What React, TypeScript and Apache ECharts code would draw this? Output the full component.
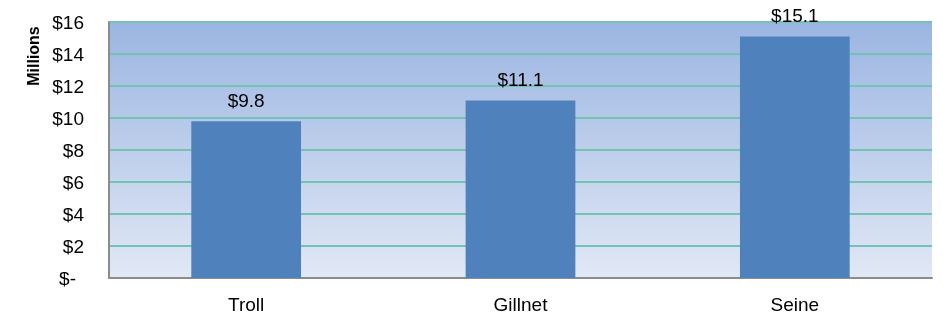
import React, { useEffect, useRef } from "react";
import * as echarts from "echarts";

const categories = ["Troll", "Gillnet", "Seine"];
const values = [9.8, 11.1, 15.1];
const yTicks = { min: 0, max: 16, interval: 2 };
const axisName = "Millions";

export default function App() {
  const ref = useRef<HTMLDivElement>(null);
  useEffect(() => {
    if (!ref.current) return;
    const chart = echarts.init(ref.current, null, { renderer: "svg" });
    const font = "'Liberation Sans', Arial, sans-serif";
    chart.setOption({
      animation: false,
      grid: {
        left: 109,
        right: 11,
        top: 22,
        bottom: 40,
        show: true,
        borderWidth: 0,
        backgroundColor: new echarts.graphic.LinearGradient(0, 0, 0, 1, [
          { offset: 0, color: "#9bb5e2" },
          { offset: 1, color: "#e1e8f5" },
        ]),
      },
      xAxis: {
        type: "category",
        data: categories,
        axisLine: { show: true, lineStyle: { color: "#8c8c8c", width: 2 } },
        axisTick: { show: false },
        axisLabel: { color: "#000", fontSize: 19, fontFamily: font, margin: 17 },
      },
      yAxis: {
        type: "value",
        min: yTicks.min,
        max: yTicks.max,
        interval: yTicks.interval,
        axisLine: { show: true, lineStyle: { color: "#8c8c8c", width: 2 } },
        axisTick: { show: false },
        splitLine: { show: true, lineStyle: { color: "#72c3b3", width: 2 } },
        axisLabel: {
          color: "#000",
          fontSize: 19,
          fontFamily: font,
          margin: 25,
          formatter: (v: number) => (v === 0 ? "{z|$-}" : "$" + v),
          rich: { z: { fontSize: 19, fontFamily: font, color: "#000", padding: [0, 8, 0, 0] } },
        },
      },
      series: [
        {
          type: "bar",
          data: values,
          barWidth: "40%",
          itemStyle: { color: "#4f81bd" },
          label: {
            show: true,
            position: "top",
            distance: 11,
            color: "#000",
            fontSize: 19,
            fontFamily: font,
            formatter: (p: any) => "$" + Number(p.value).toFixed(1),
          },
        },
      ],
      graphic: [
        {
          type: "text",
          x: 33,
          y: 56,
          rotation: Math.PI / 2,
          style: {
            text: axisName,
            fontSize: 16,
            fontWeight: "bold",
            fontFamily: font,
            fill: "#000",
            textAlign: "center",
            textVerticalAlign: "middle",
          },
        },
      ],
    });
    return () => chart.dispose();
  }, []);
  return (
    <div
      ref={ref}
      style={{ position: "fixed", left: 0, top: 0, width: 943, height: 318 }}
    />
  );
}
